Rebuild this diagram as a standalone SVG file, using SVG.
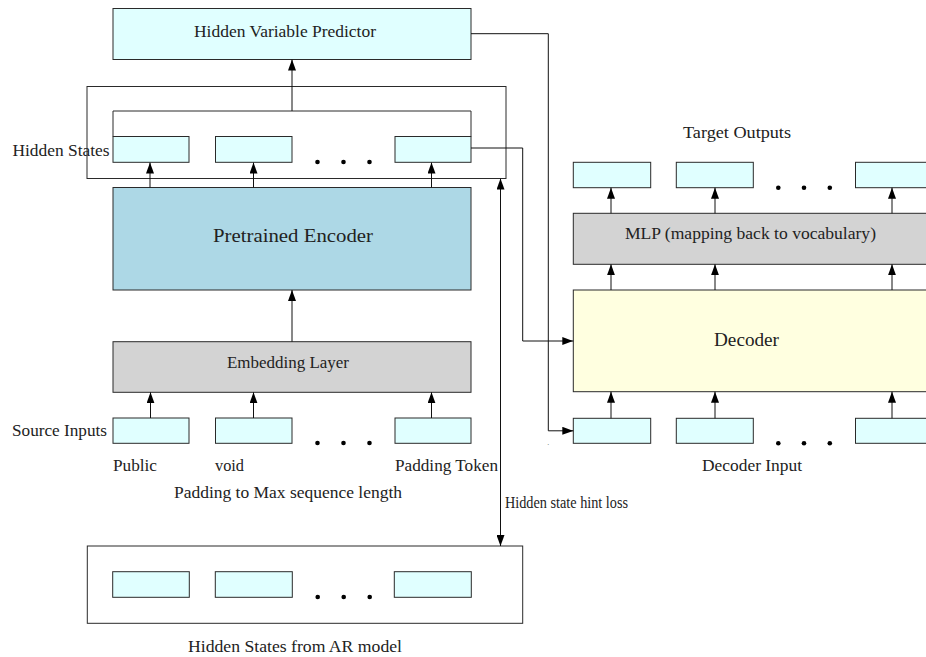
<svg xmlns="http://www.w3.org/2000/svg" width="926" height="657" viewBox="0 0 926 657" font-family="'Liberation Serif', 'DejaVu Serif', serif">
<defs>
<style>
text{font-family:'Liberation Serif','DejaVu Serif',serif;fill:#222;font-size:16px}
.big{font-size:19.5px}
.bx{stroke:#2a2a2a;stroke-width:1}
.cy{fill:#e0ffff}
.lb{fill:#add8e6}
.gr{fill:#d3d3d3}
.ly{fill:#ffffe0}
.wh{fill:#ffffff}
.open{fill:none;stroke:#2a2a2a;stroke-width:1}
.c{fill:none;stroke:#111;stroke-width:1}
.a{marker-end:url(#arr)}
.dot{fill:#000}
</style>
<marker id="arr" markerUnits="userSpaceOnUse" markerWidth="11" markerHeight="8" viewBox="0 0 11 8" refX="11" refY="4" orient="auto-start-reverse">
<path d="M0,0 L11,4 L0,8 z" fill="#000"/>
</marker>
</defs>
<rect width="926" height="657" fill="#ffffff"/>

<g id="hidden-variable-predictor">
<rect class="bx cy" x="113" y="8.5" width="358" height="51"/>
<text x="285" y="37.3" text-anchor="middle" textLength="182" lengthAdjust="spacingAndGlyphs">Hidden Variable Predictor</text>
</g>

<g id="hidden-states">
<rect class="bx wh" x="87" y="86.5" width="419" height="92"/>
<path class="open" d="M113,136.5 V111 H471 V136.5"/>
<rect class="bx cy" x="113" y="136.5" width="76" height="25.8"/>
<rect class="bx cy" x="215.5" y="136.5" width="76.5" height="25.8"/>
<rect class="bx cy" x="395" y="136.5" width="76" height="25.8"/>
<circle class="dot" cx="317.5" cy="162" r="2.3"/>
<circle class="dot" cx="343.5" cy="162" r="2.3"/>
<circle class="dot" cx="369.5" cy="162" r="2.3"/>
<text x="12.5" y="155.5" textLength="97" lengthAdjust="spacingAndGlyphs">Hidden States</text>
</g>

<g id="pretrained-encoder">
<rect class="bx lb" x="113" y="187.5" width="358" height="102.5"/>
<text class="big" x="293" y="241.5" text-anchor="middle" textLength="160" lengthAdjust="spacingAndGlyphs">Pretrained Encoder</text>
</g>

<g id="embedding-layer">
<rect class="bx gr" x="113" y="341.7" width="358" height="50.6"/>
<text x="288" y="368.3" text-anchor="middle" textLength="122" lengthAdjust="spacingAndGlyphs">Embedding Layer</text>
</g>

<g id="source-inputs">
<rect class="bx cy" x="113" y="418" width="76" height="25.3"/>
<rect class="bx cy" x="215.5" y="418" width="76.5" height="25.3"/>
<rect class="bx cy" x="395" y="418" width="76" height="25.3"/>
<circle class="dot" cx="317.5" cy="443" r="2.3"/>
<circle class="dot" cx="343.5" cy="443" r="2.3"/>
<circle class="dot" cx="369.5" cy="443" r="2.3"/>
<text x="107" y="436" text-anchor="end" textLength="95" lengthAdjust="spacingAndGlyphs">Source Inputs</text>
<text x="113" y="470.7" textLength="44" lengthAdjust="spacingAndGlyphs">Public</text>
<text x="215" y="470.7" textLength="29" lengthAdjust="spacingAndGlyphs">void</text>
<text x="395" y="470.7" textLength="103" lengthAdjust="spacingAndGlyphs">Padding Token</text>
<text x="288" y="497.5" text-anchor="middle" textLength="228" lengthAdjust="spacingAndGlyphs">Padding to Max sequence length</text>
</g>

<g id="ar-hidden-states">
<rect class="bx wh" x="87.3" y="546" width="435.4" height="77.3"/>
<rect class="bx cy" x="112.7" y="571.7" width="76.6" height="25.6"/>
<rect class="bx cy" x="215.3" y="571.7" width="77" height="25.6"/>
<rect class="bx cy" x="394.3" y="571.7" width="77" height="25.6"/>
<circle class="dot" cx="317.7" cy="597" r="2.3"/>
<circle class="dot" cx="343.7" cy="597" r="2.3"/>
<circle class="dot" cx="369.7" cy="597" r="2.3"/>
<text x="295" y="651.5" text-anchor="middle" textLength="214" lengthAdjust="spacingAndGlyphs">Hidden States from AR model</text>
</g>

<g id="target-outputs">
<rect class="bx cy" x="573.3" y="162.3" width="77.4" height="25.4"/>
<rect class="bx cy" x="676.3" y="162.3" width="77" height="25.4"/>
<rect class="bx cy" x="855.5" y="162.3" width="77" height="25.4"/>
<circle class="dot" cx="778.3" cy="187.7" r="2.3"/>
<circle class="dot" cx="804" cy="187.7" r="2.3"/>
<circle class="dot" cx="829.8" cy="187.7" r="2.3"/>
<text x="737" y="137.5" text-anchor="middle" textLength="108" lengthAdjust="spacingAndGlyphs">Target Outputs</text>
</g>

<g id="mlp">
<rect class="bx gr" x="573.3" y="213.3" width="358" height="51"/>
<text x="750.5" y="239.3" text-anchor="middle" textLength="251" lengthAdjust="spacingAndGlyphs">MLP (mapping back to vocabulary)</text>
</g>

<g id="decoder">
<rect class="bx ly" x="573.3" y="290" width="358" height="101.7"/>
<text class="big" x="746.5" y="345.7" text-anchor="middle" textLength="65" lengthAdjust="spacingAndGlyphs">Decoder</text>
</g>

<g id="decoder-input">
<rect class="bx cy" x="573.3" y="418.3" width="77.4" height="25"/>
<rect class="bx cy" x="676.3" y="418.3" width="77" height="25"/>
<rect class="bx cy" x="855.5" y="418.3" width="77" height="25"/>
<circle class="dot" cx="778.3" cy="443.3" r="2.3"/>
<circle class="dot" cx="804" cy="443.3" r="2.3"/>
<circle class="dot" cx="829.8" cy="443.3" r="2.3"/>
<text x="752" y="470.7" text-anchor="middle" textLength="100" lengthAdjust="spacingAndGlyphs">Decoder Input</text>
</g>

<g id="connectors">
<path class="c a" d="M292,111 V59.5"/>
<path class="c a" d="M150,187.5 V162.5"/>
<path class="c a" d="M253.5,187.5 V162.5"/>
<path class="c a" d="M431.5,187.5 V162.5"/>
<path class="c a" d="M292,341.7 V290"/>
<path class="c a" d="M150.5,418 V392.3"/>
<path class="c a" d="M253.5,418 V392.3"/>
<path class="c a" d="M431.5,418 V392.3"/>
<path class="c a" d="M500.5,546 V178.5" marker-start="url(#arr)"/>
<text x="505" y="508.3" textLength="123" lengthAdjust="spacingAndGlyphs">Hidden state hint loss</text>
<path class="c a" d="M471,33.7 H548.3 V430.8 H573.3"/>
<path class="c a" d="M471,148 H522.7 V341 H573.3"/>
<text x="547.3" y="444.5" style="font-size:8px;fill:#666">.</text>
<path class="c a" d="M611,418.3 V391.7"/>
<path class="c a" d="M715,418.3 V391.7"/>
<path class="c a" d="M892,418.3 V391.7"/>
<path class="c a" d="M611,290 V264.3"/>
<path class="c a" d="M715,290 V264.3"/>
<path class="c a" d="M892,290 V264.3"/>
<path class="c a" d="M611,213.3 V187.7"/>
<path class="c a" d="M715,213.3 V187.7"/>
<path class="c a" d="M892,213.3 V187.7"/>
</g>
</svg>
